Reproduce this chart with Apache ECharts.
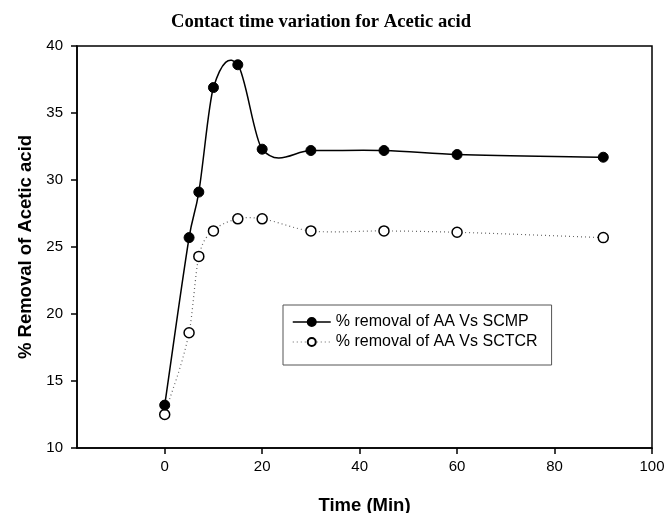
<!DOCTYPE html>
<html>
<head>
<meta charset="utf-8">
<script src="https://cdn.jsdelivr.net/npm/echarts@6/dist/echarts.min.js"></script>
<style>
  html, body { margin: 0; padding: 0; background: #fff; }
  #chart { width: 665px; height: 513px; }
</style>
</head>
<body>
<div id="chart"></div>
<script>
// Contact time (min) and % removal of acetic acid for the two sorbents
const timeMin = [0, 5, 7, 10, 15, 20, 30, 45, 60, 90];
const removalSCMP = [13.2, 25.7, 29.1, 36.9, 38.6, 32.3, 32.2, 32.2, 31.9, 31.7];
const removalSCTCR = [12.5, 18.6, 24.3, 26.2, 27.1, 27.1, 26.2, 26.2, 26.1, 25.7];
const xTicks = [0, 20, 40, 60, 80, 100];
const yTicks = [10, 15, 20, 25, 30, 35, 40];

const NAME_SCMP = '% removal of AA Vs SCMP';
const NAME_SCTCR = '% removal of AA Vs SCTCR';

const pairs = (xs, ys) => xs.map((x, i) => [x, ys[i]]);

// Cardinal-style tangents (neighbour differences) used as bezier handles
function tangents(xs, ys) {
  const n = xs.length;
  const t = [];
  for (let i = 0; i < n; i++) {
    const a = Math.max(0, i - 1), b = Math.min(n - 1, i + 1);
    t.push((ys[b] - ys[a]) / (xs[b] - xs[a]));
  }
  return t;
}

function curveSeries(xs, ys, style, z) {
  const m = tangents(xs, ys);
  return {
    type: 'custom',
    name: 'curve',
    silent: true,
    z: z,
    data: pairs(xs, ys),
    encode: { x: 0, y: 1 },
    renderItem: function (params, api) {
      const i = params.dataIndex;
      if (i >= xs.length - 1) return null;
      const h = xs[i + 1] - xs[i];
      const p0 = api.coord([xs[i], ys[i]]);
      const p1 = api.coord([xs[i + 1], ys[i + 1]]);
      const c0 = api.coord([xs[i] + h / 3, ys[i] + h * m[i] / 3]);
      const c1 = api.coord([xs[i + 1] - h / 3, ys[i + 1] - h * m[i + 1] / 3]);
      return {
        type: 'bezierCurve',
        shape: {
          x1: p0[0], y1: p0[1], x2: p1[0], y2: p1[1],
          cpx1: c0[0], cpy1: c0[1], cpx2: c1[0], cpy2: c1[1]
        },
        style: Object.assign({ fill: null }, style)
      };
    }
  };
}

const chart = echarts.init(document.getElementById('chart'), null, { renderer: 'canvas' });

chart.setOption({
  animation: false,
  backgroundColor: '#fff',
  title: {
    text: 'Contact time variation for Acetic acid',
    left: 316,
    textAlign: 'center',
    top: 8,
    textStyle: { fontFamily: 'Liberation Serif', fontWeight: 'bold', fontSize: 18.6, color: '#000' }
  },
  grid: {
    left: 77, right: 13, top: 46, bottom: 65,
    containLabel: false,
    outerBoundsMode: 'none',
    show: true, borderColor: '#000', borderWidth: 1.5, backgroundColor: 'transparent'
  },
  legend: {
    left: 283, top: 305,
    orient: 'vertical',
    padding: [9, 14, 15, 9],
    itemGap: 4,
    itemWidth: 38, itemHeight: 10,
    borderColor: '#555', borderWidth: 1,
    backgroundColor: '#fff',
    textStyle: { fontFamily: 'Liberation Sans', fontSize: 16, color: '#000' },
    data: [
      { name: NAME_SCMP, lineStyle: { color: '#000', width: 1.5, type: 'solid', opacity: 1 } },
      { name: NAME_SCTCR, lineStyle: { color: '#666', width: 1.2, type: [1, 3], opacity: 1 } }
    ]
  },
  xAxis: {
    type: 'value',
    min: -18, max: 100,
    name: 'Time (Min)',
    nameLocation: 'middle',
    nameGap: 48,
    nameTextStyle: { fontFamily: 'Liberation Sans', fontWeight: 'bold', fontSize: 18.5, color: '#000' },
    axisLine: { show: true, onZero: false, lineStyle: { color: '#000', width: 1.5 } },
    axisTick: { show: true, length: 6, customValues: xTicks, lineStyle: { color: '#000', width: 1.5 } },
    axisLabel: { customValues: xTicks, margin: 11, fontFamily: 'Liberation Sans', fontSize: 15, color: '#000' },
    splitLine: { show: false }
  },
  yAxis: {
    type: 'value',
    min: 10, max: 40, interval: 5,
    name: '% Removal of Acetic acid',
    nameLocation: 'middle',
    nameGap: 41,
    nameTextStyle: { fontFamily: 'Liberation Sans', fontWeight: 'bold', fontSize: 18.5, color: '#000' },
    axisLine: { show: true, onZero: false, lineStyle: { color: '#000', width: 1.5 } },
    axisTick: { show: true, length: 6, customValues: yTicks, lineStyle: { color: '#000', width: 1.5 } },
    axisLabel: { margin: 14, fontFamily: 'Liberation Sans', fontSize: 15, color: '#000', customValues: yTicks },
    splitLine: { show: false }
  },
  series: [
    curveSeries(timeMin, removalSCMP, { stroke: '#000', lineWidth: 1.5 }, 2),
    curveSeries(timeMin, removalSCTCR, { stroke: '#666', lineWidth: 1.2, lineDash: [1, 3] }, 1),
    {
      name: NAME_SCMP,
      type: 'line',
      data: pairs(timeMin, removalSCMP),
      symbol: 'circle',
      symbolSize: 10,
      lineStyle: { opacity: 0 },
      itemStyle: { color: '#000', borderColor: '#000', borderWidth: 1 },
      z: 4
    },
    {
      name: NAME_SCTCR,
      type: 'line',
      data: pairs(timeMin, removalSCTCR),
      symbol: 'circle',
      symbolSize: 10,
      lineStyle: { opacity: 0 },
      itemStyle: { color: '#fff', borderColor: '#000', borderWidth: 1.5 },
      z: 3
    }
  ]
});
</script>
</body>
</html>
